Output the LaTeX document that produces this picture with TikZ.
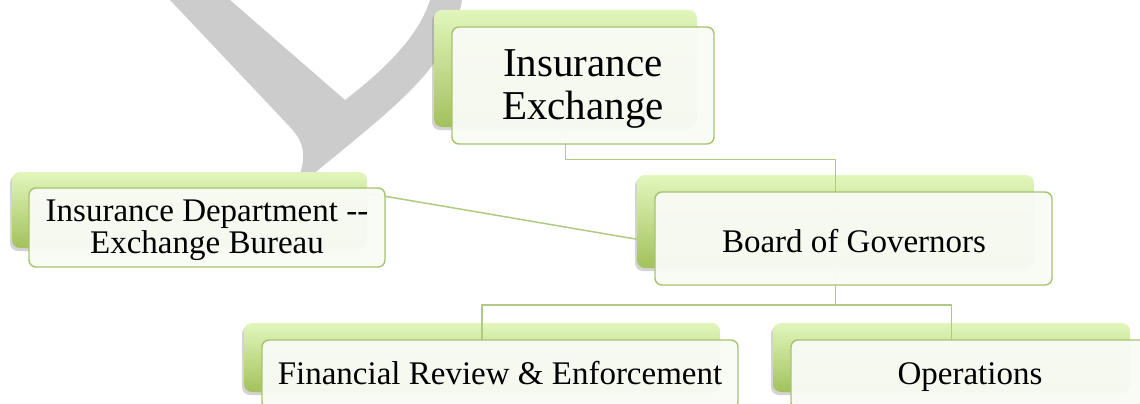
\documentclass[tikz,border=0pt]{standalone}
\usepackage{fontspec}
\setmainfont{Liberation Serif}
\usetikzlibrary{shadows,calc}
\definecolor{wm}{HTML}{CCCCCC}
\definecolor{bktop}{HTML}{E2F6BC}
\definecolor{bkbot}{HTML}{A3C15C}
\definecolor{frline}{HTML}{A6C36E}
\definecolor{frfill}{HTML}{F9FBF5}
\definecolor{connc}{HTML}{B0C983}
\tikzset{
  backbox/.style={rectangle, rounded corners=8pt, top color=bktop, bottom color=bkbot,
    draw=none, inner sep=0pt,
    drop shadow={shadow xshift=-2pt, shadow yshift=-3pt, opacity=0.35}},
  frontbox/.style={rectangle, rounded corners=7pt, draw=frline, line width=1.4pt,
    fill=frfill, fill opacity=0.96, inner sep=0pt},
  lbl/.style={inner sep=0pt, align=center, font=\fontsize{33}{32}\selectfont},
  biglbl/.style={inner sep=0pt, align=center, font=\fontsize{41}{43}\selectfont},
  connline/.style={draw=connc, line width=1.5pt}
}
\begin{document}
\begin{tikzpicture}[x=1pt, y=-1pt]
\useasboundingbox (0,0) rectangle (1140,404);
\clip (0,0) rectangle (1140,404);
% watermark
\fill[wm] (170,0) -- (230,0) -- (345,100)
  .. controls (392,64) and (420,32) .. (430,0) -- (462,0)
  .. controls (450,70) and (390,110) .. (300,185)
  -- (296,185) .. controls (306,160) and (307,145) .. (290,127) -- cycle;
% back boxes
\node[backbox, minimum width=263, minimum height=117] (ieB) at (565.5,68.5) {};
\node[backbox, minimum width=397, minimum height=93] (boardB) at (835.5,221.5) {};
\node[backbox, minimum width=355, minimum height=76] (deptB) at (189.5,210) {};
\node[backbox, minimum width=476, minimum height=69] (finB) at (482,357.5) {};
\node[backbox, minimum width=357, minimum height=69] (opsB) at (951.5,357.5) {};
% connectors
\coordinate (e1) at (565.5,159.5);
\coordinate (e2) at (835.5,305);
\draw[connline] (ieB.center) -- (e1) -| (boardB.center);
\draw[connline] (boardB.center) -- (e2);
\draw[connline] (e2) -| (finB.center);
\draw[connline] (e2) -| (opsB.center);
\draw[connline] ($(deptB.north east)!0.28!(deptB.south east)$) -- ($(boardB.north west)!0.69!(boardB.south west)$);
% front boxes
\node[frontbox, minimum width=262, minimum height=117] (ie) at (583,85.5) {};
\node[frontbox, minimum width=397, minimum height=93] (board) at (853.5,238.5) {};
\node[frontbox, minimum width=356, minimum height=79] (dept) at (207,227.5) {};
\node[frontbox, minimum width=476, minimum height=69] (fin) at (500,374.5) {};
\node[frontbox, minimum width=357, minimum height=69] (ops) at (969.5,374.5) {};
% labels
\node[biglbl] (ieT) at (583,89) {Insurance\\Exchange};
\node[lbl, anchor=base] (boardT) at (854,252) {Board of Governors};
\node[lbl] (deptT) at (207,230.5) {Insurance Department -{}-\\Exchange Bureau};
\node[lbl, anchor=base] (finT) at (500,384) {Financial Review \& Enforcement};
\node[lbl, anchor=base] (opsT) at (970,384) {Operations};
\end{tikzpicture}
\end{document}
